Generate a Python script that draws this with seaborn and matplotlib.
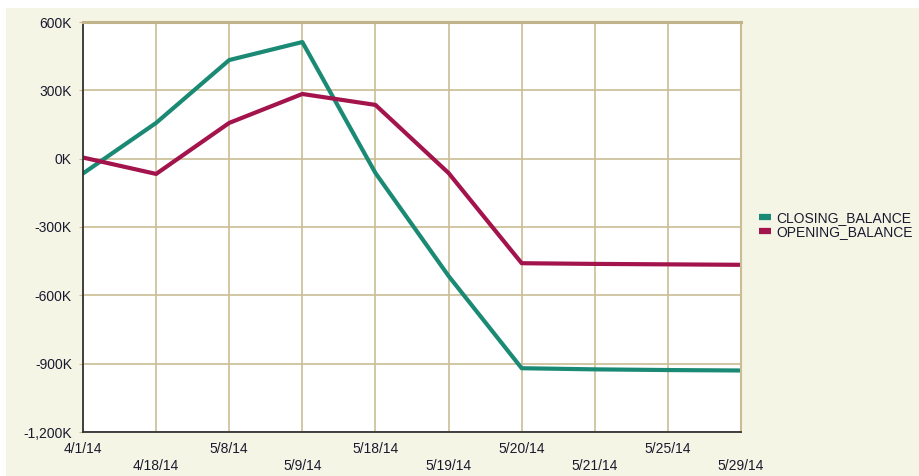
import matplotlib
matplotlib.use("Agg")
import matplotlib.pyplot as plt
import matplotlib.transforms as mtransforms
from matplotlib.patches import Rectangle
from matplotlib.ticker import FuncFormatter
import seaborn as sns
import pandas as pd

dates = ["4/1/14", "4/18/14", "5/8/14", "5/9/14", "5/18/14",
         "5/19/14", "5/20/14", "5/21/14", "5/25/14", "5/29/14"]
closing_balance = [-65, 157, 433, 512, -63, -515, -920, -925, -928, -930]
opening_balance = [5, -67, 157, 284, 236, -63, -459, -462, -464, -466]
series_names = ["CLOSING_BALANCE", "OPENING_BALANCE"]
y_ticks = [600, 300, 0, -300, -600, -900, -1200]

df = pd.DataFrame({
    "date": dates * 2,
    "value": closing_balance + opening_balance,
    "series": [series_names[0]] * len(dates) + [series_names[1]] * len(dates),
})
df["pos"] = list(range(len(dates))) * 2

sns.set_style("white")
plt.rcParams["font.family"] = ["Liberation Sans", "DejaVu Sans"]

BEIGE = "#f5f5e6"
GRID = "#cbbd93"
TEAL = "#1b8a75"
CRIMSON = "#a3134c"
TEXT = "#1a1a2e"
FS = 10

fig = plt.figure(figsize=(9.2, 4.76), dpi=100, facecolor="white")
fig.patches.append(Rectangle((6 / 920, 0), 1 - 6 / 920, 1 - 8 / 476,
                             transform=fig.transFigure, facecolor=BEIGE,
                             edgecolor="none", zorder=-10))
ax = fig.add_axes([83 / 920, 1 - 432 / 476, 658 / 920, 410 / 476])
ax.set_facecolor("white")

sns.lineplot(data=df, x="pos", y="value", hue="series",
             palette={series_names[0]: TEAL, series_names[1]: CRIMSON},
             linewidth=3, sort=False, ax=ax, legend=True, zorder=3)

ax.set_xlim(0, len(dates) - 1)
ax.set_ylim(-1200, 600)
ax.set_xticks(range(len(dates)))
ax.set_xticklabels([d if i % 2 == 0 else "\n" + d for i, d in enumerate(dates)],
                   fontsize=FS, color=TEXT, linespacing=1.3)
offset = mtransforms.ScaledTranslation(-8 / 100, 0, fig.dpi_scale_trans)
for lbl in ax.get_xticklabels():
    lbl.set_transform(lbl.get_transform() + offset)
ax.set_yticks(y_ticks)
ax.yaxis.set_major_formatter(FuncFormatter(lambda v, _: f"{int(v):,}K"))
ax.tick_params(axis="y", labelsize=FS, labelcolor=TEXT, length=3,
               color=GRID, pad=5, left=True)
ax.tick_params(axis="x", length=0, pad=7)
ax.set_xlabel("")
ax.set_ylabel("")

ax.grid(True, color=GRID, linewidth=1.2, zorder=0)
ax.set_axisbelow(True)
for side in ("left", "bottom"):
    ax.spines[side].set_color("#333333")
    ax.spines[side].set_linewidth(1.3)
ax.spines["top"].set_color("#c2b48a")
ax.spines["top"].set_linewidth(2.2)
ax.spines["right"].set_color(GRID)
ax.spines["right"].set_linewidth(1.5)
for s in ax.spines.values():
    s.set_zorder(4)

leg = ax.legend(loc="center left", bbox_to_anchor=(759 / 920, 1 - 225 / 476),
                bbox_transform=fig.transFigure, frameon=False, fontsize=FS,
                handlelength=0.9, handletextpad=0.35, labelspacing=0.05,
                borderaxespad=0, borderpad=0)
for h in leg.legend_handles:
    h.set_linewidth(4.5)
    h.set_solid_capstyle("butt")
for t in leg.get_texts():
    t.set_color(TEXT)

fig.savefig("out.png", dpi=100, facecolor="white")
